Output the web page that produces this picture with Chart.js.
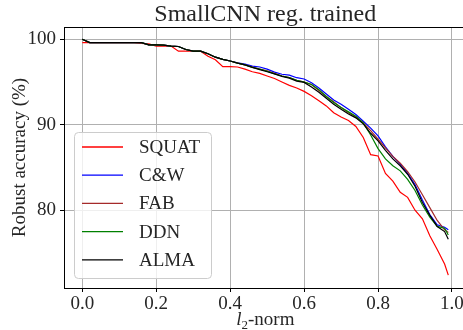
<!DOCTYPE html>
<html>
<head>
<meta charset="utf-8">
<script src="https://cdn.jsdelivr.net/npm/chart.js@4/dist/chart.umd.min.js"></script>
<style>
  html, body { margin: 0; padding: 0; overflow: hidden; background: #fff; }
  #wrap { position: relative; width: 470px; height: 330px; }
</style>
</head>
<body>
<div id="wrap"><canvas id="robustChart"></canvas></div>
<script>
/* ── Data ── */
const norms = [0.00, 0.02, 0.04, 0.06, 0.08, 0.10, 0.12, 0.14, 0.16, 0.18,
  0.20, 0.22, 0.24, 0.26, 0.28, 0.30, 0.32, 0.34, 0.36, 0.38,
  0.40, 0.42, 0.44, 0.46, 0.48, 0.50, 0.52, 0.54, 0.56, 0.58,
  0.60, 0.62, 0.64, 0.66, 0.68, 0.70, 0.72, 0.74, 0.76, 0.78,
  0.80, 0.82, 0.84, 0.86, 0.88, 0.90, 0.92, 0.94, 0.96, 0.98, 0.99];

const squat = [99.6, 99.6, 99.6, 99.6, 99.6, 99.6, 99.6, 99.6, 99.5, 99.45,
  99.2, 99.2, 99.2, 98.6, 98.6, 98.6, 98.6, 98.0, 97.6, 96.8,
  96.8, 96.75, 96.5, 96.2, 96.0, 95.7, 95.4, 95.0, 94.6, 94.3,
  93.9, 93.4, 92.8, 92.2, 91.4, 90.9, 90.5, 89.8, 88.5, 86.5,
  86.35, 84.3, 83.4, 82.1, 81.5, 80.0, 79.0, 77.0, 75.4, 73.7, 72.4];

const cw = [100.0, 99.6, 99.6, 99.6, 99.6, 99.6, 99.6, 99.6, 99.6, 99.35,
  99.35, 99.3, 99.2, 99.15, 98.8, 98.6, 98.6, 98.3, 97.9, 97.65,
  97.45, 97.25, 97.1, 96.85, 96.75, 96.5, 96.15, 95.9, 95.8, 95.5,
  95.35, 94.9, 94.3, 93.6, 92.9, 92.4, 91.8, 91.2, 90.4, 89.6,
  88.7, 87.4, 86.3, 85.4, 84.3, 83.0, 81.2, 79.5, 78.3, 78.0, 77.7];

const fab = [100.0, 99.6, 99.6, 99.6, 99.6, 99.6, 99.6, 99.6, 99.6, 99.35,
  99.35, 99.3, 99.2, 99.15, 98.8, 98.6, 98.6, 98.3, 97.9, 97.65,
  97.45, 97.2, 97.0, 96.75, 96.5, 96.3, 96.0, 95.7, 95.5, 95.2,
  95.0, 94.7, 94.0, 93.3, 92.7, 92.0, 91.4, 90.9, 90.2, 89.3,
  88.3, 87.3, 86.3, 85.5, 84.5, 83.3, 81.8, 80.3, 78.8, 77.7, 77.4];

const ddn = [100.0, 99.6, 99.6, 99.6, 99.6, 99.6, 99.6, 99.6, 99.6, 99.35,
  99.35, 99.3, 99.2, 99.15, 98.8, 98.6, 98.6, 98.3, 97.9, 97.65,
  97.45, 97.2, 97.0, 96.7, 96.5, 96.25, 95.95, 95.7, 95.5, 95.2,
  95.0, 94.7, 94.1, 93.3, 92.6, 92.0, 91.5, 91.0, 90.2, 88.8,
  87.2, 86.0, 85.2, 84.6, 83.6, 82.3, 80.6, 79.2, 78.1, 77.9, 77.1];

const alma = [100.0, 99.6, 99.6, 99.6, 99.6, 99.6, 99.6, 99.6, 99.6, 99.35,
  99.35, 99.3, 99.2, 99.15, 98.8, 98.6, 98.6, 98.3, 97.9, 97.65,
  97.45, 97.2, 97.0, 96.7, 96.45, 96.2, 95.95, 95.65, 95.45, 95.1,
  94.95, 94.4, 93.8, 93.1, 92.4, 91.8, 91.25, 90.8, 90.1, 89.0,
  88.1, 87.0, 86.0, 85.2, 84.2, 82.8, 80.9, 79.4, 78.1, 77.5, 76.6];

const seriesNames = ['SQUAT', 'C&W', 'FAB', 'DDN', 'ALMA'];
const seriesData = [squat, cw, fab, ddn, alma];
const seriesColors = ['#ff0000', '#0000ff', '#a52a2a', '#008000', '#000000'];

const xTicks = [0.0, 0.2, 0.4, 0.6, 0.8, 1.0];
const yTicks = [80, 90, 100];

const FONT = "'Liberation Serif', 'Times New Roman', serif";
const TEXT = '#262626';

/* ── Matplotlib-style frame, title, x label and legend ── */
const decorPlugin = {
  id: 'decor',
  afterDraw(chart) {
    const { ctx, chartArea: a } = chart;
    ctx.save();

    // spines
    ctx.strokeStyle = '#000';
    ctx.lineWidth = 1;
    ctx.beginPath();
    ctx.moveTo(a.left, a.top + 0.5);
    ctx.lineTo(a.right, a.top + 0.5);
    ctx.moveTo(a.right - 0.5, a.top);
    ctx.lineTo(a.right - 0.5, a.bottom);
    ctx.stroke();

    // title
    const cx = (a.left + a.right) / 2;
    ctx.fillStyle = TEXT;
    ctx.textAlign = 'center';
    ctx.textBaseline = 'alphabetic';
    ctx.font = `24px ${FONT}`;
    ctx.fillText('SmallCNN reg. trained', cx, 21);

    // x label: l_2-norm
    ctx.textAlign = 'left';
    const parts = [
      { t: 'l', f: `italic 19px ${FONT}`, dy: 0 },
      { t: '2', f: `13px ${FONT}`, dy: 4 },
      { t: '-norm', f: `19px ${FONT}`, dy: 0 },
    ];
    let w = 0;
    parts.forEach(p => { ctx.font = p.f; w += ctx.measureText(p.t).width; });
    let x = cx - w / 2;
    parts.forEach(p => {
      ctx.font = p.f;
      ctx.fillText(p.t, x, 325 + p.dy);
      x += ctx.measureText(p.t).width;
    });

    // legend
    const bx = a.left + 10, by = a.top + 105, bw = 137, bh = 146;
    ctx.beginPath();
    ctx.roundRect(bx + 0.5, by + 0.5, bw, bh, 4);
    ctx.fillStyle = 'rgba(255,255,255,0.8)';
    ctx.fill();
    ctx.strokeStyle = '#cccccc';
    ctx.stroke();

    ctx.font = `19px ${FONT}`;
    ctx.textBaseline = 'middle';
    seriesNames.forEach((name, i) => {
      const y = by + 15 + i * 28.2;
      ctx.strokeStyle = seriesColors[i];
      ctx.lineWidth = 1.3;
      ctx.beginPath();
      ctx.moveTo(bx + 8, y);
      ctx.lineTo(bx + 49, y);
      ctx.stroke();
      ctx.fillStyle = TEXT;
      ctx.fillText(name, bx + 65, y + 1);
    });

    ctx.restore();
  },
};

const ctx = document.getElementById('robustChart');

new Chart(ctx, {
  type: 'line',
  data: {
    datasets: seriesNames.map((name, i) => ({
      label: name,
      data: norms.map((n, j) => ({ x: n, y: seriesData[i][j] })),
      borderColor: seriesColors[i],
      borderWidth: 1.2,
      pointRadius: 0,
      tension: 0,
      fill: false,
      order: seriesNames.length - i,
    })),
  },
  options: {
    responsive: true,
    maintainAspectRatio: false,
    animation: false,
    events: [],
    layout: { padding: { top: 27, right: 3.4, left: 0, bottom: 0 } },
    plugins: { legend: { display: false }, tooltip: { enabled: false }, title: { display: false } },
    scales: {
      x: {
        type: 'linear',
        min: -0.0495,
        max: 1.0395,
        afterBuildTicks: s => { s.ticks = xTicks.map(v => ({ value: v })); },
        afterFit: s => { s.height = 42; },
        grid: { color: '#b0b0b0', lineWidth: 1, tickLength: 4, tickColor: '#000' },
        border: { display: true, color: '#000', width: 1 },
        ticks: {
          color: TEXT,
          padding: 1,
          maxRotation: 0,
          font: { family: FONT, size: 19 },
          callback: v => v.toFixed(1),
        },
      },
      y: {
        type: 'linear',
        min: 70.9,
        max: 101.43,
        afterBuildTicks: s => { s.ticks = yTicks.map(v => ({ value: v })); },
        afterFit: s => { s.width = 64; },
        grid: { color: '#b0b0b0', lineWidth: 1, tickLength: 4, tickColor: '#000' },
        border: { display: true, color: '#000', width: 1 },
        ticks: {
          color: TEXT,
          padding: 4,
          font: { family: FONT, size: 19 },
          callback: v => String(v),
        },
        title: {
          display: true,
          text: 'Robust accuracy (%)',
          color: TEXT,
          font: { family: FONT, size: 19 },
          padding: { top: 9, bottom: 0 },
        },
      },
    },
  },
  plugins: [decorPlugin],
});
</script>
</body>
</html>
